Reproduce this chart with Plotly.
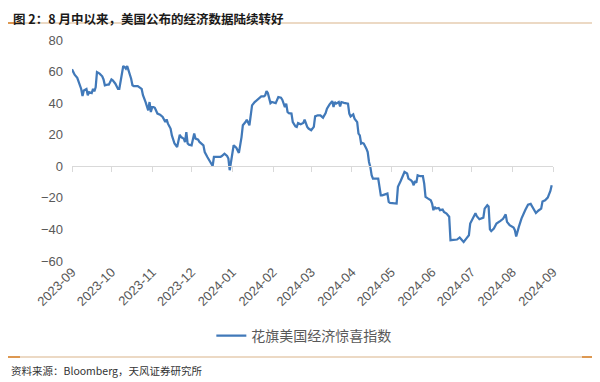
import plotly.graph_objects as go

title_text = "图 2：8 月中以来，美国公布的经济数据陆续转好"
source_text = "资料来源：Bloomberg，天风证券研究所"
series_name = "花旗美国经济惊喜指数"

dates = [
    "2023-09-01", "2023-09-03", "2023-09-05", "2023-09-07", "2023-09-08", "2023-09-09", "2023-09-10",
    "2023-09-12", "2023-09-13", "2023-09-14", "2023-09-16", "2023-09-17", "2023-09-18", "2023-09-19",
    "2023-09-20", "2023-09-22", "2023-09-24", "2023-09-25", "2023-09-26", "2023-09-28", "2023-09-29",
    "2023-10-01", "2023-10-02", "2023-10-04", "2023-10-06", "2023-10-07", "2023-10-08", "2023-10-10",
    "2023-10-11", "2023-10-12", "2023-10-13", "2023-10-15", "2023-10-16", "2023-10-17", "2023-10-18",
    "2023-10-21", "2023-10-22", "2023-10-24", "2023-10-25", "2023-10-26", "2023-10-27", "2023-10-29",
    "2023-10-30", "2023-10-31", "2023-11-01", "2023-11-02", "2023-11-03", "2023-11-05", "2023-11-07",
    "2023-11-09", "2023-11-11", "2023-11-12", "2023-11-13", "2023-11-15", "2023-11-16", "2023-11-18",
    "2023-11-20", "2023-11-22", "2023-11-23", "2023-11-25", "2023-11-26", "2023-11-27", "2023-11-28",
    "2023-11-29", "2023-12-01", "2023-12-03", "2023-12-04", "2023-12-06", "2023-12-07", "2023-12-10",
    "2023-12-11", "2023-12-13", "2023-12-15", "2023-12-17", "2023-12-18", "2023-12-20", "2023-12-23",
    "2023-12-24", "2023-12-26", "2023-12-28", "2023-12-29", "2023-12-30", "2023-12-31", "2024-01-02",
    "2024-01-04", "2024-01-06", "2024-01-08", "2024-01-09", "2024-01-11", "2024-01-12", "2024-01-14",
    "2024-01-15", "2024-01-16", "2024-01-18", "2024-01-20", "2024-01-22", "2024-01-23", "2024-01-25",
    "2024-01-26", "2024-01-27", "2024-01-28", "2024-01-30", "2024-01-31", "2024-02-03", "2024-02-04",
    "2024-02-05", "2024-02-07", "2024-02-08", "2024-02-10", "2024-02-11", "2024-02-12", "2024-02-13",
    "2024-02-15", "2024-02-16", "2024-02-18", "2024-02-19", "2024-02-20", "2024-02-22", "2024-02-24",
    "2024-02-25", "2024-02-27", "2024-02-28", "2024-03-01", "2024-03-03", "2024-03-04", "2024-03-06",
    "2024-03-08", "2024-03-10", "2024-03-12", "2024-03-13", "2024-03-15", "2024-03-17", "2024-03-18",
    "2024-03-19", "2024-03-20", "2024-03-22", "2024-03-23", "2024-03-24", "2024-03-26", "2024-03-29",
    "2024-03-30", "2024-03-31", "2024-04-02", "2024-04-03", "2024-04-05", "2024-04-06", "2024-04-07",
    "2024-04-08", "2024-04-09", "2024-04-10", "2024-04-12", "2024-04-13", "2024-04-14", "2024-04-15",
    "2024-04-16", "2024-04-17", "2024-04-21", "2024-04-22", "2024-04-23", "2024-04-24", "2024-04-26",
    "2024-04-28", "2024-04-29", "2024-04-30", "2024-05-05", "2024-05-06", "2024-05-08", "2024-05-10",
    "2024-05-11", "2024-05-13", "2024-05-14", "2024-05-16", "2024-05-17", "2024-05-18", "2024-05-19",
    "2024-05-20", "2024-05-21", "2024-05-23", "2024-05-25", "2024-05-26", "2024-05-27", "2024-05-29",
    "2024-05-31", "2024-06-01", "2024-06-02", "2024-06-03", "2024-06-04", "2024-06-06", "2024-06-07",
    "2024-06-09", "2024-06-10", "2024-06-12", "2024-06-13", "2024-06-14", "2024-06-15", "2024-06-17",
    "2024-06-20", "2024-06-22", "2024-06-24", "2024-06-25", "2024-06-27", "2024-06-29", "2024-06-30",
    "2024-07-02", "2024-07-04", "2024-07-05", "2024-07-07", "2024-07-10", "2024-07-11", "2024-07-13",
    "2024-07-14", "2024-07-15", "2024-07-16", "2024-07-18", "2024-07-20", "2024-07-23", "2024-07-25",
    "2024-07-27", "2024-07-28", "2024-07-30", "2024-08-02", "2024-08-03", "2024-08-04", "2024-08-06",
    "2024-08-08", "2024-08-11", "2024-08-13", "2024-08-15", "2024-08-17", "2024-08-19", "2024-08-21",
    "2024-08-23", "2024-08-24", "2024-08-26", "2024-08-28", "2024-08-30", "2024-08-31",
]

values = [
    61.4, 58, 56, 52, 49, 44.5, 48,
    49, 45, 47, 46.4, 49, 47.5, 50,
    59.7, 58.7, 57, 55, 51.3, 51.7, 51.7,
    55, 54.4, 52.3, 49, 49, 54.4, 63.5,
    62.8, 61.8, 63.5, 58.7, 55.5, 51.3, 50.8,
    50.8, 50.2, 49, 45, 43, 40.7, 35.4,
    40.7, 34.4, 37.5, 37.5, 37, 33.4, 32.7,
    31.2, 28, 29.7, 27, 23.9, 19.6, 14.4,
    12.2, 20, 18.5, 17.5, 15.4, 21.7, 14.4,
    13.7, 13.3, 20.7, 17.5, 16.9, 15.4, 13.3,
    9, 5.9, 2.7, 0.2, 5.9, 5.9, 5.9,
    6.5, 8, 6.5, 4.9, -2.5, 3.8, 13.3,
    11.8, 8.5, 18.5, 26, 28, 29.5, 26,
    31.2, 38.6, 40.7, 42.2, 43.5, 44.3, 44.3,
    45, 47.7, 46.4, 40, 40.7, 40, 41.8,
    43.9, 43.5, 42.2, 37.5, 39.7, 34.4, 33.7,
    33.4, 28, 25.3, 24.9, 27.4, 26.6, 27.4,
    29.5, 24.9, 23.9, 22.8, 25, 31.6, 32.3,
    32.3, 30.8, 33.7, 36.5, 39.2, 41.3, 37.5,
    40.7, 39.7, 40.7, 38, 40.7, 40.2, 39.7,
    33.4, 31.6, 32.9, 30.2, 28, 20.7, 19.6,
    14.4, 14.8, 14.4, 11.2, 9, 2.7, -0.4,
    -5.7, -7.8, -7.8, -12, -18.4, -18.4, -17.9,
    -17.3, -22.6, -23.2, -23.6, -13, -9.5, -5.7,
    -3.6, -4.6, -7.8, -8.9, -9.9, -12, -9.3,
    -10.5, -5.7, -6.3, -6.3, -11, -19.4, -20.5,
    -21.5, -23.6, -27.8, -25.7, -26.8, -26.4, -27.8,
    -27.4, -28.9, -30, -31, -32, -46.8, -46.8,
    -46.4, -45.1, -46.8, -47.9, -45.8, -43.7, -36.3,
    -33.5, -29.8, -31.6, -33.5, -32.5, -26.8, -24.7,
    -25.5, -40, -41, -39.4, -36.3, -34.6, -33.3,
    -30.5, -35.2, -37.3, -38.8, -40.5, -44.5, -38.4,
    -33.1, -27.6, -24.3, -23.8, -27, -29.6, -28,
    -26.8, -22.3, -21.5, -19.8, -15.6, -12,
]

tick_dates = ["2023-09-01", "2023-10-01", "2023-11-01", "2023-12-01", "2024-01-01", "2024-02-01",
              "2024-03-01", "2024-04-01", "2024-05-01", "2024-06-01", "2024-07-01", "2024-08-01",
              "2024-09-01"]
tick_labels = ["2023-09", "2023-10", "2023-11", "2023-12", "2024-01", "2024-02", "2024-03",
               "2024-04", "2024-05", "2024-06", "2024-07", "2024-08", "2024-09"]
y_range = [-60, 80]

FONT = "Liberation Sans, Noto Sans CJK SC, sans-serif"
CJK = "Noto Sans CJK SC, sans-serif"
GRAY = "#595959"

# the page body adds an 8px offset; compensate in the margins
OFF = 8
PLOT_L, PLOT_R, PLOT_T, PLOT_B = 72, 553, 40, 261

fig = go.Figure()
fig.add_trace(go.Scatter(
    x=dates, y=values, mode="lines", name=series_name,
    line=dict(color="#4179B9", width=2.25),
    xaxis="x", yaxis="y",
))
fig.add_trace(go.Scatter(
    x=[tick_dates[0], tick_dates[-1]], y=[0, 0], mode="lines",
    line=dict(color="rgba(0,0,0,0)", width=0), showlegend=False, hoverinfo="skip",
    xaxis="x2", yaxis="y",
))

zero_pos = (0 - y_range[0]) / (y_range[1] - y_range[0])

fig.update_layout(
    width=600, height=382,
    margin=dict(l=PLOT_L - OFF, r=600 - (PLOT_R - OFF), t=PLOT_T - OFF, b=382 - (PLOT_B - OFF)),
    paper_bgcolor="white", plot_bgcolor="white",
    font=dict(family=FONT, color=GRAY, size=13),
    showlegend=True,
    legend=dict(orientation="h", x=0.482, xanchor="center", y=-0.34, yanchor="middle",
                font=dict(family=CJK, size=14, color=GRAY), bgcolor="rgba(0,0,0,0)"),
    xaxis=dict(
        type="date", range=[tick_dates[0], tick_dates[-1]],
        tickmode="array", tickvals=tick_dates, ticktext=tick_labels,
        tickangle=-45, showgrid=False, zeroline=False, showline=False, ticks="",
        tickfont=dict(family=FONT, size=13, color=GRAY),
    ),
    xaxis2=dict(
        type="date", range=[tick_dates[0], tick_dates[-1]], overlaying="x",
        anchor="free", position=zero_pos, side="bottom",
        tickmode="array", tickvals=tick_dates, showticklabels=False,
        showline=True, linecolor="#D9D9D9", linewidth=1,
        ticks="outside", ticklen=5, tickcolor="#D9D9D9", tickwidth=1,
        showgrid=False, zeroline=False,
    ),
    yaxis=dict(
        range=y_range, dtick=20, tick0=0, showgrid=False, zeroline=False,
        showline=False, ticks="", ticklabelstandoff=8,
        tickfont=dict(family=FONT, size=13, color=GRAY),
    ),
)

def py(pix):
    return (PLOT_B - pix) / float(PLOT_B - PLOT_T)

def px(pix):
    return (pix - PLOT_L) / float(PLOT_R - PLOT_L)

fig.add_annotation(text="<b>" + title_text + "</b>", xref="paper", yref="paper",
                   x=px(12), y=py(8), xanchor="left", yanchor="top", showarrow=False,
                   borderpad=0, font=dict(family=CJK, size=12.5, color="#1a1a1a"))
fig.add_annotation(text=source_text, xref="paper", yref="paper",
                   x=px(9), y=py(370), xanchor="left", yanchor="middle", showarrow=False,
                   font=dict(family=CJK, size=10.5, color="#333333"))

for yy in (23, 357):
    fig.add_shape(type="line", xref="paper", yref="paper", x0=px(8), x1=px(597),
                  y0=py(yy), y1=py(yy), line=dict(color="#E6CDB0", width=1.5))
    fig.add_shape(type="line", xref="paper", yref="paper", x0=px(8), x1=px(20),
                  y0=py(yy), y1=py(yy), line=dict(color="#D9822B", width=1.5))
fig.add_shape(type="line", xref="paper", yref="paper", x0=px(582), x1=px(597),
              y0=py(357), y1=py(357), line=dict(color="#D9822B", width=1.5))

fig.write_html("out.html")
